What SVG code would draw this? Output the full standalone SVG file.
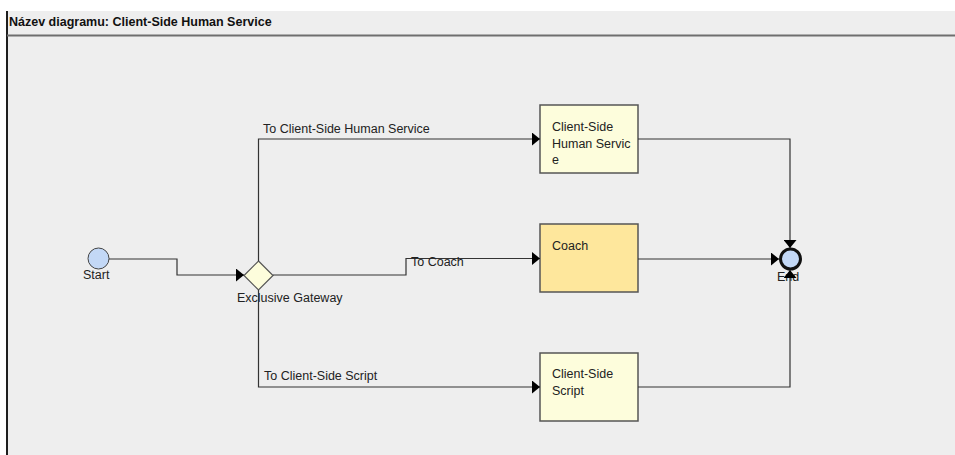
<svg xmlns="http://www.w3.org/2000/svg" width="955" height="455" viewBox="0 0 955 455">
  <style>
    text { font-family: "Liberation Sans", Arial, sans-serif; font-size: 12.5px; fill: #222; }
    .title { font-weight: bold; fill: #111; }
    .flow { fill: none; stroke: #333; stroke-width: 1.2; marker-end: url(#arrow); }
    .task { fill: #fdfddc; stroke: #555; stroke-width: 1.5; }
    .task.coach { fill: #fee79c; }
    .gateway { fill: #fdfddc; stroke: #555; stroke-width: 1.2; }
    .start { fill: #c3d8f6; stroke: #444; stroke-width: 1; }
    .end { fill: #c3d8f6; stroke: #111; stroke-width: 3; }
  </style>
  <defs>
    <marker id="arrow" markerUnits="userSpaceOnUse" markerWidth="9" markerHeight="13" refX="8" refY="6.5" orient="auto">
      <path d="M0,0 L8,6.5 L0,13 Z" fill="#000"/>
    </marker>
  </defs>

  <!-- canvas and header band -->
  <rect x="0" y="0" width="955" height="455" fill="#ffffff"/>
  <rect x="6" y="11" width="949" height="444" fill="#eeeeee"/>
  <rect x="6" y="11" width="2" height="444" fill="#1e1e1e"/>
  <line x1="7" y1="35.5" x2="955" y2="35.5" stroke="#6e6e6e" stroke-width="2"/>
  <text class="title" x="9" y="26">Název diagramu: Client-Side Human Service</text>

  <g id="start">
    <circle class="start" cx="98.5" cy="258.5" r="10.5"/>
    <text x="83" y="279">Start</text>
  </g>

  <g id="exclusive-gateway">
    <polygon class="gateway" points="258.5,261 273,275.5 258.5,290 244,275.5"/>
    <text x="237" y="302">Exclusive Gateway</text>
  </g>

  <g id="client-side-human-service">
    <rect class="task" x="540" y="105" width="98" height="68"/>
    <text x="552" y="131">Client-Side</text>
    <text x="552" y="147.5">Human Servic</text>
    <text x="552" y="164">e</text>
  </g>

  <g id="coach">
    <rect class="task coach" x="540" y="224" width="98" height="68"/>
    <text x="552" y="250">Coach</text>
  </g>

  <g id="client-side-script">
    <rect class="task" x="540" y="353" width="98" height="68"/>
    <text x="552" y="377.5">Client-Side</text>
    <text x="552" y="395">Script</text>
  </g>

  <g id="end">
    <circle class="end" cx="790.5" cy="259" r="10"/>
    <text x="777" y="281">End</text>
  </g>

  <!-- sequence flows, drawn over the node labels -->
  <g id="connectors">
    <polyline class="flow" points="109,259 177,259 177,275 244,275"/>
    <polyline class="flow" points="258.5,261 258.5,139 540,139"/>
    <polyline class="flow" points="273,275 406,275 406,258.5 540,258.5"/>
    <polyline class="flow" points="258.5,290 258.5,387 540,387"/>
    <polyline class="flow" points="638,139 790,139 790,248"/>
    <polyline class="flow" points="638,259 779,259"/>
    <polyline class="flow" points="638,387 790,387 790,270"/>
    <text x="263" y="133">To Client-Side Human Service</text>
    <text x="411" y="266">To Coach</text>
    <text x="264" y="380">To Client-Side Script</text>
  </g>
</svg>
